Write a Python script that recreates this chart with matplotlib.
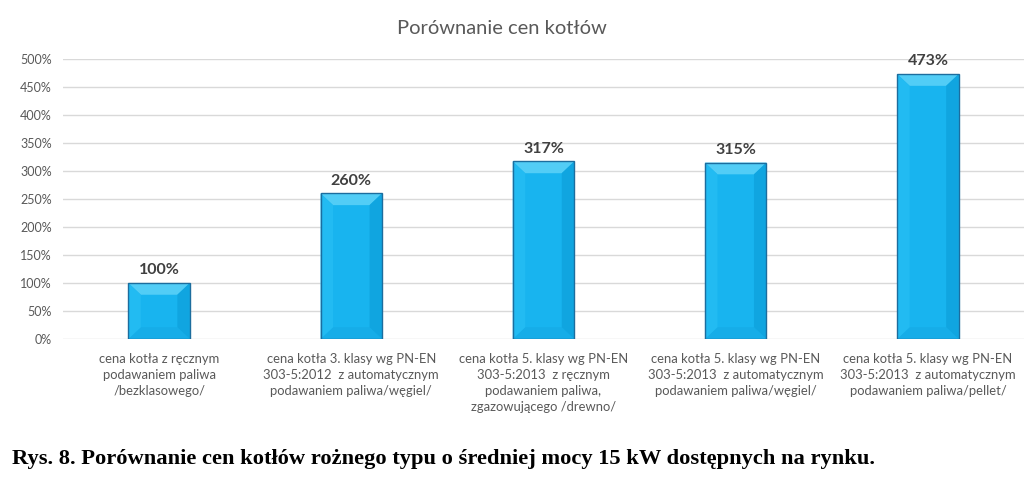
import matplotlib.pyplot as plt
from matplotlib.patches import Polygon
from matplotlib.ticker import FuncFormatter, MultipleLocator

categories = [
    "cena kotła z ręcznym\npodawaniem paliwa\n/bezklasowego/",
    "cena kotła 3. klasy wg PN-EN\n303-5:2012  z automatycznym\npodawaniem paliwa/węgiel/",
    "cena kotła 5. klasy wg PN-EN\n303-5:2013  z ręcznym\npodawaniem paliwa,\nzgazowującego /drewno/",
    "cena kotła 5. klasy wg PN-EN\n303-5:2013  z automatycznym\npodawaniem paliwa/węgiel/",
    "cena kotła 5. klasy wg PN-EN\n303-5:2013  z automatycznym\npodawaniem paliwa/pellet/",
]
values = [100, 260, 317, 315, 473]

title = "Porównanie cen kotłów"
caption = "Rys. 8. Porównanie cen kotłów rożnego typu o średniej mocy 15 kW dostępnych na rynku."

GREY = "#595959"
FONT = ["Lato", "DejaVu Sans"]

fig = plt.figure(figsize=(10.24, 4.82), dpi=100)
ax = fig.add_axes([0.0615, 0.2967, 0.9385, 0.581])

x = list(range(len(values)))
w = 0.32
ax.bar(x, values, width=w, color="#18b4ef", edgecolor="none", zorder=3)

# bevel facets, sized in data units
dx = 0.065
dy = 21
for xi, h in zip(x, values):
    l, r = xi - w / 2, xi + w / 2
    facets = [
        ([(l, h), (r, h), (r - dx, h - dy), (l + dx, h - dy)], "#52cdf6"),
        ([(l, 0), (r, 0), (r - dx, dy), (l + dx, dy)], "#16ade8"),
        ([(l, 0), (l, h), (l + dx, h - dy), (l + dx, dy)], "#22bbf2"),
        ([(r, 0), (r, h), (r - dx, h - dy), (r - dx, dy)], "#10a5e0"),
    ]
    for pts, c in facets:
        ax.add_patch(Polygon(pts, closed=True, facecolor=c, edgecolor="none", zorder=4))
    ax.add_patch(Polygon([(l, 0), (r, 0), (r, h), (l, h)], closed=True, fill=False,
                         edgecolor="#1c6d9e", linewidth=1.0, zorder=5))
    ax.text(xi, h + 10, f"{h}%", ha="center", va="bottom", fontsize=11.5,
            fontweight="bold", color="#404040", family=FONT)

ax.set_xlim(-0.5, len(values) - 0.5)
ax.set_ylim(0, 500)
ax.yaxis.set_major_locator(MultipleLocator(50))
ax.yaxis.set_major_formatter(FuncFormatter(lambda v, p: f"{v:.0f}%"))
ax.grid(axis="y", color="#d9d9d9", linewidth=1.0, zorder=0)
ax.set_axisbelow(True)
for s in ax.spines.values():
    s.set_visible(False)
ax.tick_params(axis="both", length=0)
ax.tick_params(axis="y", pad=8, labelcolor=GREY, labelsize=9)
ax.set_xticks(x)
ax.set_xticklabels(categories, fontsize=9.4, color=GREY, family=FONT, linespacing=1.42)
ax.tick_params(axis="x", pad=10)
for t in ax.get_yticklabels():
    t.set_family(FONT)

fig.text(0.49, 0.94, title, ha="center", va="center", fontsize=14.5, color=GREY, family=FONT)
fig.text(0.012, 0.048, caption, ha="left", va="center", fontsize=16.2,
         fontweight="bold", family=["Liberation Serif", "DejaVu Serif"], color="black")

fig.savefig("out.png", dpi=100)
